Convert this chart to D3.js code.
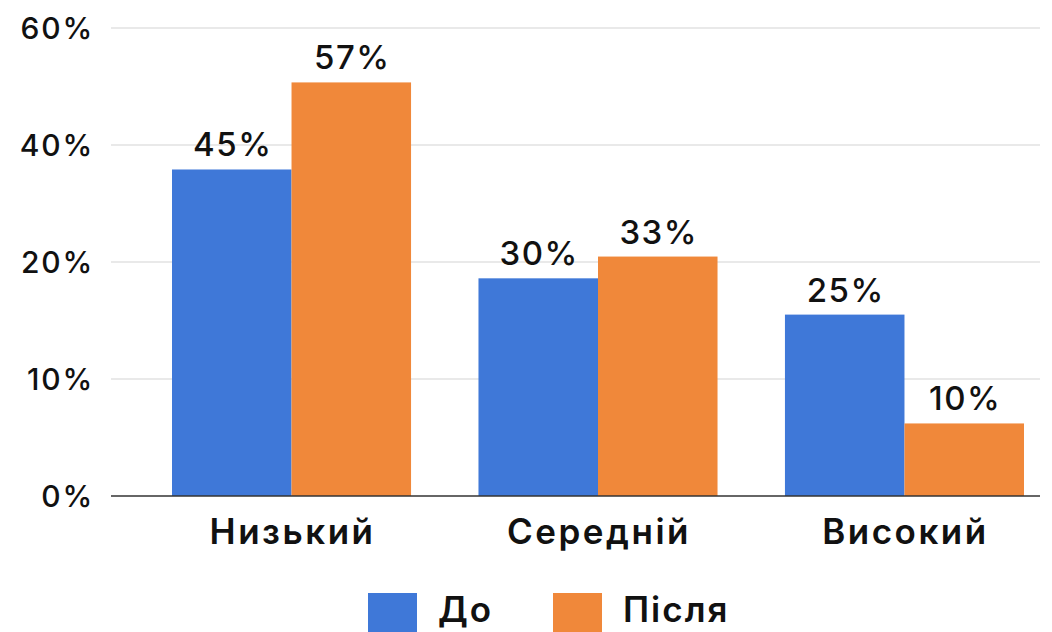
<!DOCTYPE html>
<html>
<head>
<meta charset="utf-8">
<script src="https://cdn.jsdelivr.net/npm/d3@7"></script>
<style>
  html, body { margin: 0; padding: 0; background: #fff; }
  svg { display: block; }
  text { font-family: Inter, "Open Sans", sans-serif; fill: #111; }
</style>
</head>
<body>
<svg id="chart" width="1052" height="632"></svg>
<script>
// Share of respondents per level, before and after
const categories = ["Низький", "Середній", "Високий"];
const seriesNames = ["До", "Після"];
const beforeValues = [45, 30, 25];
const afterValues = [57, 33, 10];
const tickLabels = ["0%", "10%", "20%", "40%", "60%"];
const colors = ["#3f78d8", "#f0883a"];

const svg = d3.select("#chart");
const plot = { left: 111, right: 1040, top: 28, bottom: 496 };

const x0 = d3.scaleBand()
  .domain(categories)
  .range([172, 1024])
  .paddingInner(0.22)
  .paddingOuter(0);
const x1 = d3.scaleBand()
  .domain(seriesNames)
  .range([0, x0.bandwidth()])
  .padding(0);

// bar heights
const y = d3.scaleLinear().domain([0, 64.5]).range([plot.bottom, plot.top]);
// gridline rows for the axis labels
const yTicks = d3.scalePoint().domain(tickLabels).range([plot.bottom, plot.top]);

// gridlines
svg.append("g")
  .selectAll("line")
  .data(tickLabels.slice(1))
  .join("line")
  .attr("x1", plot.left).attr("x2", plot.right)
  .attr("y1", d => yTicks(d)).attr("y2", d => yTicks(d))
  .attr("stroke", "#e2e2e2").attr("stroke-width", 1.5);

// y labels
svg.append("g")
  .selectAll("text")
  .data(tickLabels)
  .join("text")
  .attr("x", 94)
  .attr("y", d => yTicks(d))
  .attr("dy", "0.36em")
  .attr("text-anchor", "end")
  .attr("font-size", 30)
  .attr("font-weight", 500)
  .attr("letter-spacing", 1.8)
  .text(d => d);

const rows = categories.map((c, i) => ({
  cat: c,
  vals: [
    { name: seriesNames[0], v: beforeValues[i] },
    { name: seriesNames[1], v: afterValues[i] }
  ]
}));

const groups = svg.append("g")
  .selectAll("g")
  .data(rows)
  .join("g")
  .attr("transform", d => `translate(${x0(d.cat)},0)`);

groups.selectAll("rect")
  .data(d => d.vals)
  .join("rect")
  .attr("x", d => x1(d.name))
  .attr("width", x1.bandwidth())
  .attr("y", d => y(d.v))
  .attr("height", d => plot.bottom - y(d.v))
  .attr("fill", (d, i) => colors[i]);

groups.selectAll("text.val")
  .data(d => d.vals)
  .join("text")
  .attr("class", "val")
  .attr("x", d => x1(d.name) + x1.bandwidth() / 2 + 1)
  .attr("y", d => y(d.v) - 13)
  .attr("text-anchor", "middle")
  .attr("font-size", 33)
  .attr("font-weight", 500)
  .attr("letter-spacing", 1.5)
  .text(d => d.v + "%");

// baseline
svg.append("line")
  .attr("x1", plot.left).attr("x2", plot.right)
  .attr("y1", plot.bottom).attr("y2", plot.bottom)
  .attr("stroke", "#333").attr("stroke-width", 1.5);

// category labels
svg.append("g")
  .selectAll("text")
  .data(categories)
  .join("text")
  .attr("x", d => x0(d) + x0.bandwidth() / 2 + 1)
  .attr("y", 544)
  .attr("text-anchor", "middle")
  .attr("font-size", 35)
  .attr("font-weight", 600)
  .attr("letter-spacing", 2.5)
  .text(d => d);

// legend
const legendX = [368, 553];
const legend = svg.append("g")
  .selectAll("g")
  .data(seriesNames)
  .join("g")
  .attr("transform", (d, i) => `translate(${legendX[i]},593)`);
legend.append("rect")
  .attr("width", 49).attr("height", 40)
  .attr("fill", (d, i) => colors[i]);
legend.append("text")
  .attr("x", 70)
  .attr("y", 29)
  .attr("font-size", 35)
  .attr("font-weight", 600)
  .attr("letter-spacing", 2)
  .text(d => d);
</script>
</body>
</html>
